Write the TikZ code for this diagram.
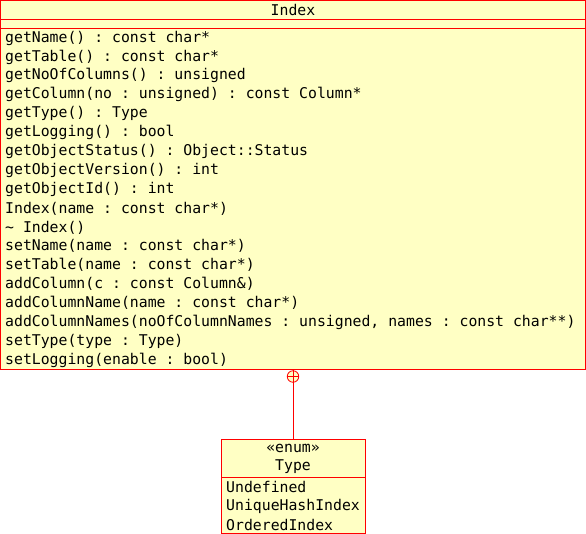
\documentclass[tikz,border=0pt]{standalone}
\usepackage{fontspec}
\setmonofont{DejaVu Sans Mono}
\definecolor{umlfill}{RGB}{255,255,196}
\definecolor{umlline}{RGB}{255,0,0}
\begin{document}
\begin{tikzpicture}[x=1bp,y=-1bp,
  box/.style={draw=umlline,fill=umlfill,line width=1bp},
  sep/.style={draw=umlline,line width=1bp},
  txt/.style={anchor=west,inner sep=0pt,font=\ttfamily\fontsize{14.8bp}{19bp}\selectfont},
  ctxt/.style={anchor=center,inner sep=0pt,font=\ttfamily\fontsize{14.8bp}{19bp}\selectfont}]
\useasboundingbox (0,0) rectangle (586,534);
% Index class
\path[box] (0.5,0.5) rectangle (585.5,369.5);
\draw[sep] (0.5,19.5) -- (585.5,19.5);
\draw[sep] (0.5,28.5) -- (585.5,28.5);
\node[ctxt] (title) at (293,9.5) {Index};
\foreach \t [count=\i from 0] in {%
 {getName() : const char*},
 {getTable() : const char*},
 {getNoOfColumns() : unsigned},
 {getColumn(no : unsigned) : const Column*},
 {getType() : Type},
 {getLogging() : bool},
 {getObjectStatus() : Object::Status},
 {getObjectVersion() : int},
 {getObjectId() : int},
 {Index(name : const char*)},
 {\char`\~{} Index()},
 {setName(name : const char*)},
 {setTable(name : const char*)},
 {addColumn(c : const Column\&)},
 {addColumnName(name : const char*)},
 {addColumnNames(noOfColumnNames : unsigned, names : const char**)},
 {setType(type : Type)},
 {setLogging(enable : bool)}}
 \node[txt] at (5,{38+\i*18.94}) {\t};
% nesting connector
\node[draw=umlline,circle,minimum size=11.5bp,inner sep=0pt,line width=0.8bp,fill=umlfill] (circ) at (293,376.5) {};
\draw[umlline,line width=0.8bp] (circ.north) -- (circ.south);
\draw[umlline,line width=0.8bp] (circ.west) -- (circ.east);
% Type enum
\path[box] (221.5,439.5) rectangle (365.5,533.5);
\draw[sep] (221.5,477.5) -- (365.5,477.5);
\coordinate (tp) at (293,439.5);
\draw[umlline,line width=1bp] (circ.south) -- (tp);
\node[ctxt] (st) at (293,448) {«enum»};
\node[ctxt] (tn) at (293,467) {Type};
\node[txt] (v1) at (226,487) {Undefined};
\node[txt] (v2) at (226,506) {UniqueHashIndex};
\node[txt] (v3) at (226,525) {OrderedIndex};
\end{tikzpicture}
\end{document}
